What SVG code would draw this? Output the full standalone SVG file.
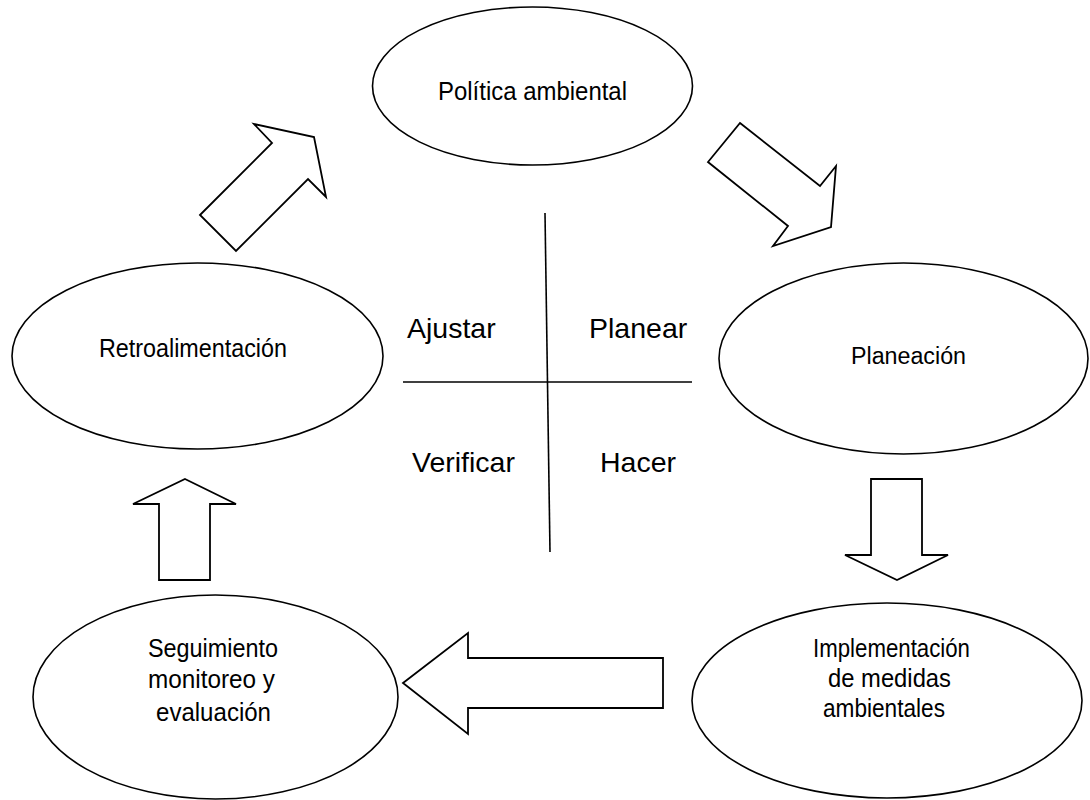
<svg xmlns="http://www.w3.org/2000/svg" width="1090" height="800" viewBox="0 0 1090 800">
<style>
.node ellipse{fill:#fff;stroke:#000;stroke-width:1.6}
.arrow{fill:#fff;stroke:#000;stroke-width:1.8;stroke-linejoin:miter}
.line{stroke:#000;stroke-width:1.6}
text{font-family:"Liberation Sans",Arial,sans-serif;fill:#000}
.nt{font-size:26px}
.ns{font-size:25px}
.ct{font-size:28.5px}
</style>
<rect width="1090" height="800" fill="#fff"/>
<g id="connectors">
<polygon class="arrow" points="200,215 272,143 254,124 314,137 326,197 308,179 236,251"/>
<polygon class="arrow" points="740,123 820,186 836,166 831,227 773,246 788,226 708,162"/>
<polygon class="arrow" points="871,479 922,479 922,555 948,555 897,580 845,555 871,555"/>
<polygon class="arrow" points="185,479 236,504 210,504 210,580 159,580 159,504 133,504"/>
<polygon class="arrow" points="403,683 468,633 468,658 663,658 663,708 468,708 468,734"/>
</g>
<g id="quadrants">
<line class="line" x1="545" y1="213" x2="550" y2="552"/>
<line class="line" x1="403" y1="382" x2="692" y2="382"/>
<text class="ct" x="407" y="338">Ajustar</text>
<text class="ct" x="589" y="338">Planear</text>
<text class="ct" x="412" y="472">Verificar</text>
<text class="ct" x="600" y="472">Hacer</text>
</g>
<g id="politica" class="node">
<ellipse cx="532.5" cy="86" rx="160" ry="79"/>
<text class="nt" x="438" y="100" textLength="189" lengthAdjust="spacingAndGlyphs">Política ambiental</text>
</g>
<g id="retroalimentacion" class="node">
<ellipse cx="197.5" cy="356" rx="185.5" ry="93"/>
<text class="nt" x="99" y="357" textLength="188" lengthAdjust="spacingAndGlyphs">Retroalimentación</text>
</g>
<g id="planeacion" class="node">
<ellipse cx="903.5" cy="358.5" rx="184.5" ry="95.5"/>
<text x="851" y="364" font-size="23.5" textLength="115" lengthAdjust="spacingAndGlyphs">Planeación</text>
</g>
<g id="seguimiento" class="node">
<ellipse cx="215.5" cy="697" rx="182.5" ry="102"/>
<text class="ns" x="148" y="657" textLength="130" lengthAdjust="spacingAndGlyphs">Seguimiento</text>
<text class="ns" x="148" y="688" textLength="127" lengthAdjust="spacingAndGlyphs">monitoreo y</text>
<text class="ns" x="156" y="721" textLength="115" lengthAdjust="spacingAndGlyphs">evaluación</text>
</g>
<g id="implementacion" class="node">
<ellipse cx="887" cy="700.5" rx="195" ry="97.5"/>
<text class="ns" x="813" y="657" textLength="157" lengthAdjust="spacingAndGlyphs">Implementación</text>
<text class="ns" x="828" y="687" textLength="123" lengthAdjust="spacingAndGlyphs">de medidas</text>
<text class="ns" x="823" y="717" textLength="122" lengthAdjust="spacingAndGlyphs">ambientales</text>
</g>
</svg>
